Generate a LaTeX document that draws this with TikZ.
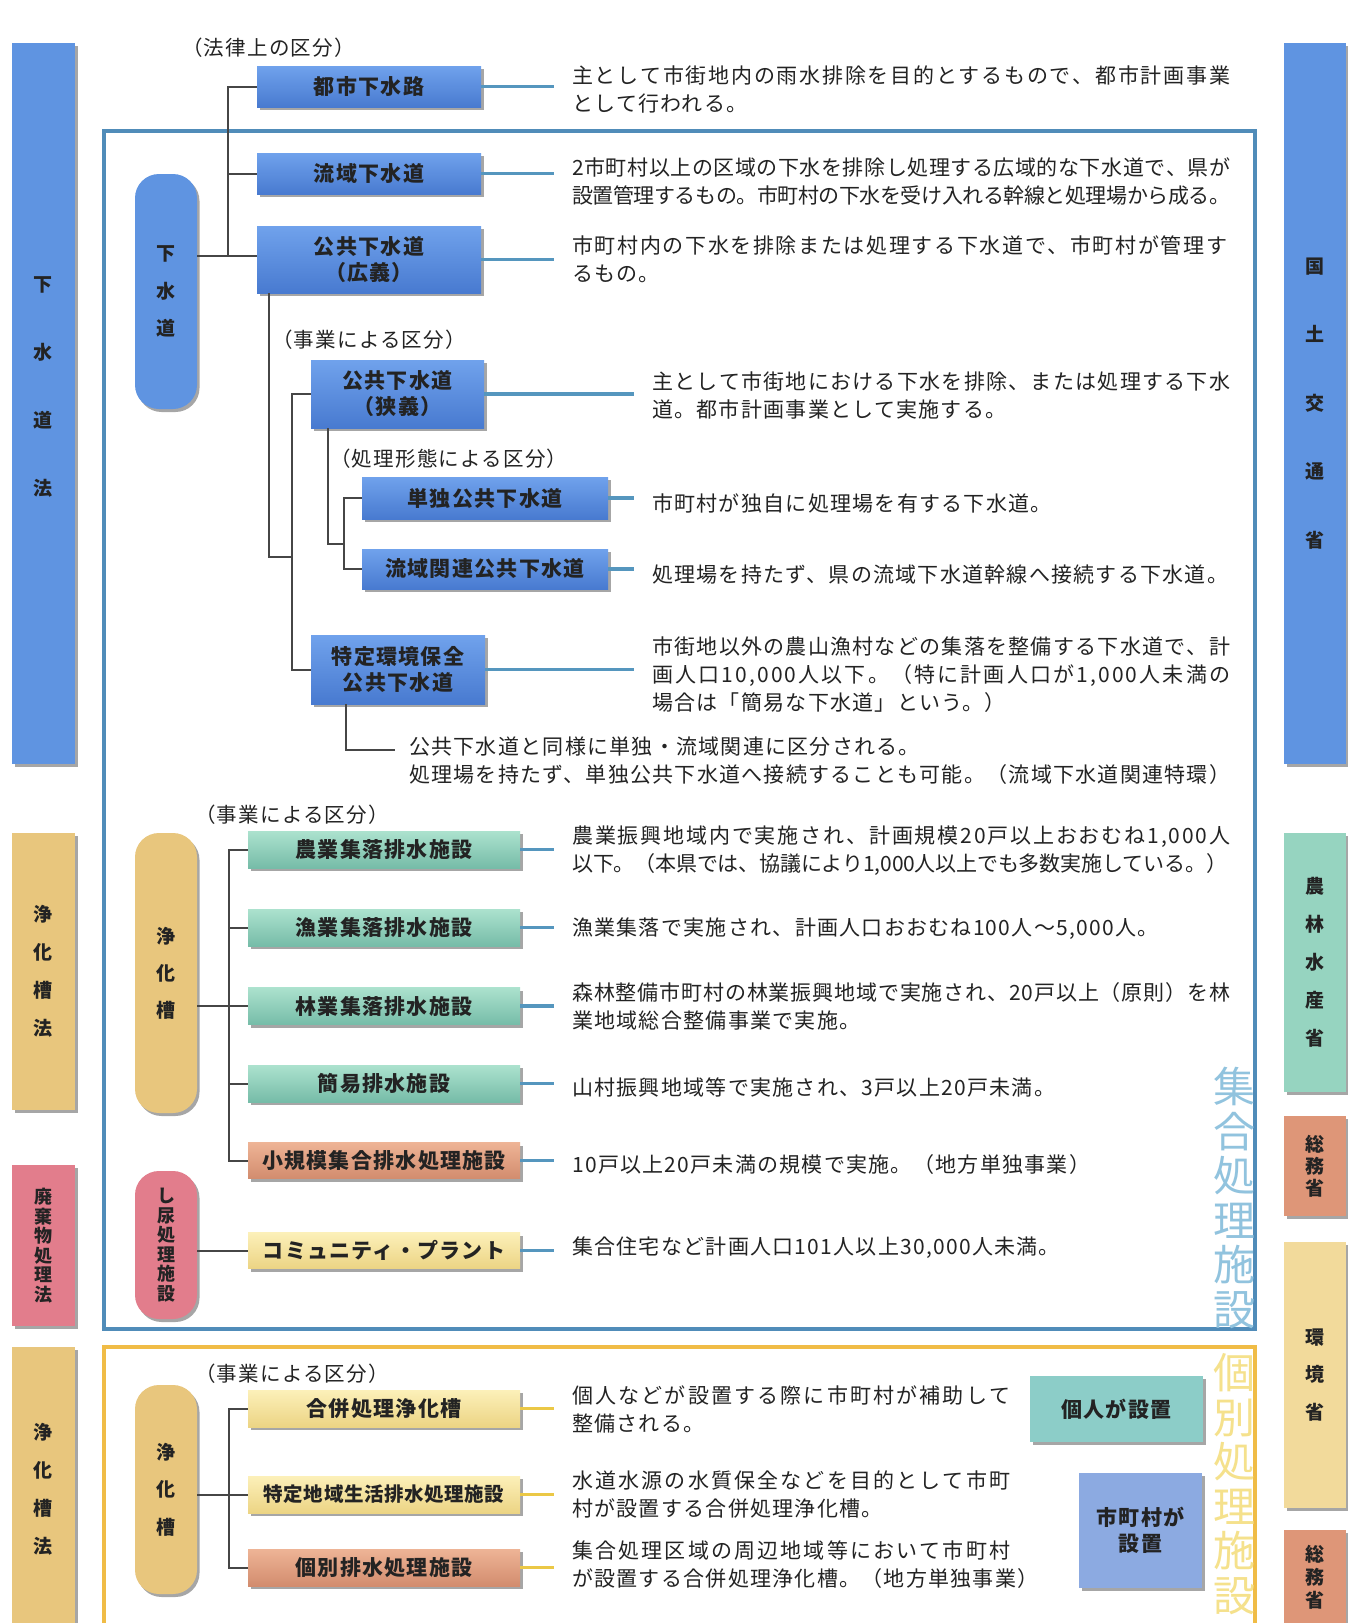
\documentclass[tikz,border=0pt]{standalone}
\usepackage{fontspec}
\setmainfont{Noto Sans CJK JP}
\usetikzlibrary{shadows}
\makeatletter
\def\jl#1#2{\makebox[#1pt][s]{\jl@first#2\relax}}
\def\jl@first#1{#1\jl@loop}
\def\jl@loop#1{\ifx\relax#1\else\hskip0pt plus 1fil minus 3pt #1\expandafter\jl@loop\fi}
\makeatother
\newcommand\trk[1]{\addfontfeature{LetterSpace=#1}}
\definecolor{bxblueT}{RGB}{112,162,236}
\definecolor{bxblueB}{RGB}{72,122,208}
\definecolor{barblue}{RGB}{95,148,225}
\definecolor{tanC}{RGB}{232,198,125}
\definecolor{pinkC}{RGB}{226,125,140}
\definecolor{greenT}{RGB}{172,226,206}
\definecolor{greenB}{RGB}{118,188,168}
\definecolor{salT}{RGB}{238,180,150}
\definecolor{salB}{RGB}{210,140,110}
\definecolor{yelT}{RGB}{252,240,185}
\definecolor{yelB}{RGB}{236,212,132}
\definecolor{minGreen}{RGB}{150,212,192}
\definecolor{minSal}{RGB}{222,150,120}
\definecolor{minTan}{RGB}{242,218,155}
\definecolor{kojinC}{RGB}{140,205,200}
\definecolor{shichoC}{RGB}{140,170,225}
\definecolor{treeC}{RGB}{70,70,70}
\definecolor{connB}{RGB}{85,150,190}
\definecolor{connY}{RGB}{235,200,70}
\definecolor{frameBl}{RGB}{80,140,185}
\definecolor{frameGd}{RGB}{240,188,70}
\definecolor{bigBl}{RGB}{145,195,222}
\definecolor{bigYl}{RGB}{245,225,140}
\definecolor{txtC}{RGB}{35,35,35}
\begin{document}
\begin{tikzpicture}[x=1pt,y=-1pt,
  sShadow/.style={drop shadow={shadow xshift=2.5pt,shadow yshift=-3pt,opacity=0.35,fill=black}},
  sBox/.style={rectangle,inner sep=0pt,align=center,text=txtC,font=\bfseries\fontsize{21}{26}\selectfont\trk{6},sShadow},
  sBlue/.style={sBox,top color=bxblueT,bottom color=bxblueB},
  sGreen/.style={sBox,top color=greenT,bottom color=greenB},
  sSal/.style={sBox,top color=salT,bottom color=salB},
  sYel/.style={sBox,top color=yelT,bottom color=yelB},
  sLaw/.style={rectangle,inner sep=0pt,align=center,text=txtC,sShadow},
  sRound/.style={sLaw,rounded corners=24pt},
  sVt/.style={inner sep=0pt,align=center,text=txtC},
  sDesc/.style={anchor=west,inner sep=0pt,align=left,text=txtC,font=\fontsize{21}{28}\selectfont\trk{6}},
  sCls/.style={anchor=west,inner sep=0pt,text=txtC,font=\fontsize{20.5}{24}\selectfont\trk{6}},
  sBig/.style={inner sep=0pt,align=center,font=\fontsize{42}{44.5}\selectfont},
  sTree/.style={draw=treeC,line width=2pt},
  sConn/.style={draw=connB,line width=3.5pt,shorten >=18pt},
  sConnY/.style={draw=connY,line width=3.5pt,shorten >=18pt}
]
\useasboundingbox (0,0) rectangle (1348,1623);
\fill[white] (0,0) rectangle (1348,1623);

% frames
\draw[frameBl,line width=4pt] (104,131) rectangle (1255,1329);
\draw[frameGd,line width=4.5pt] (104,1347) rectangle (1255,1650);
\node[sBig,text=bigBl] (shugo) at (1234,1198) {集\\合\\処\\理\\施\\設};
\node[sBig,text=bigYl] (kobetsuT) at (1234,1484) {個\\別\\処\\理\\施\\設};

% law bars (left)
\node[sLaw,fill=barblue,minimum width=63,minimum height=721] (law1) at (43.5,403.5) {};
\node[sVt,font=\bfseries\fontsize{19}{68}\selectfont] (law1t) at (43.5,387) {下\\水\\道\\法};
\node[sLaw,fill=tanC,minimum width=63,minimum height=277,font=\bfseries\fontsize{19}{38}\selectfont] (law2) at (43.5,971.5) {浄\\化\\槽\\法};
\node[sLaw,fill=pinkC,minimum width=63,minimum height=161,font=\bfseries\fontsize{18}{19.5}\selectfont] (law3) at (43.5,1245.5) {廃\\棄\\物\\処\\理\\法};
\node[sLaw,fill=tanC,minimum width=63,minimum height=284,font=\bfseries\fontsize{19}{38}\selectfont] (law4) at (43.5,1489) {浄\\化\\槽\\法};

% ministry bars (right)
\node[sLaw,fill=barblue,minimum width=62,minimum height=721,font=\bfseries\fontsize{19}{68.5}\selectfont] (min1) at (1315,403.5) {国\\土\\交\\通\\省};
\node[sLaw,fill=minGreen,minimum width=62,minimum height=259,font=\bfseries\fontsize{19}{38}\selectfont] (min2) at (1315,962.5) {農\\林\\水\\産\\省};
\node[sLaw,fill=minSal,minimum width=62,minimum height=100,font=\bfseries\fontsize{19}{22}\selectfont] (min3) at (1315,1166) {総\\務\\省};
\node[sLaw,fill=minTan,minimum width=62,minimum height=266,font=\bfseries\fontsize{19}{37.5}\selectfont] (min4) at (1315,1375) {環\\境\\省};
\node[sLaw,fill=minSal,minimum width=62,minimum height=94,font=\bfseries\fontsize{19}{23}\selectfont] (min5) at (1315,1577) {総\\務\\省};

% inner rounded bars
\node[sRound,fill=barblue,minimum width=62,minimum height=235,font=\bfseries\fontsize{19}{37.5}\selectfont] (gesuido) at (166,291.5) {下\\水\\道};
\node[sRound,fill=tanC,minimum width=62,minimum height=280,font=\bfseries\fontsize{19}{37}\selectfont] (joka1) at (166,973) {浄\\化\\槽};
\node[sRound,fill=pinkC,minimum width=62,minimum height=148,font=\bfseries\fontsize{18}{19.5}\selectfont] (shinyo) at (166,1245) {し\\尿\\処\\理\\施\\設};
\node[sRound,fill=tanC,minimum width=62,minimum height=209,font=\bfseries\fontsize{19}{37.5}\selectfont] (joka2) at (166,1489.5) {浄\\化\\槽};

% classification labels
\node[sCls] (c1) at (182,48) {（法律上の区分）};
\node[sCls] (c2) at (272,340) {（事業による区分）};
\node[sCls] (c3) at (330,459) {（処理形態による区分）};
\node[sCls] (c4) at (195,815) {（事業による区分）};
\node[sCls] (c5) at (195,1374) {（事業による区分）};

% blue boxes
\node[sBlue,minimum width=224,minimum height=41] (toshi) at (369,86.5) {都市下水路};
\node[sBlue,minimum width=224,minimum height=41] (ryuiki) at (369,173.5) {流域下水道};
\node[sBlue,minimum width=224,minimum height=67] (kokyo1) at (369,259.5) {公共下水道\\（広義）};
\node[sBlue,minimum width=173,minimum height=68] (kyogi) at (397.5,394) {公共下水道\\（狭義）};
\node[sBlue,minimum width=246,minimum height=42] (tandoku) at (485,498) {単独公共下水道};
\node[sBlue,minimum width=246,minimum height=40] (ryukan) at (485,569) {流域関連公共下水道};
\node[sBlue,minimum width=174,minimum height=69] (tokutei) at (398,669.5) {特定環境保全\\公共下水道};

% middle boxes
\node[sGreen,minimum width=272,minimum height=37] (nogyo) at (384,849.5) {農業集落排水施設};
\node[sGreen,minimum width=272,minimum height=37] (gyogyo) at (384,927.5) {漁業集落排水施設};
\node[sGreen,minimum width=272,minimum height=37] (ringyo) at (384,1006) {林業集落排水施設};
\node[sGreen,minimum width=272,minimum height=37] (kani) at (384,1083.5) {簡易排水施設};
\node[sSal,minimum width=272,minimum height=36] (shokibo) at (384,1160.5) {小規模集合排水処理施設};
\node[sYel,minimum width=272,minimum height=36] (community) at (384,1250.5) {コミュニティ・プラント};

% bottom boxes
\node[sYel,minimum width=272,minimum height=37] (gappei) at (384,1408.5) {合併処理浄化槽};
\node[sYel,minimum width=272,minimum height=37,font=\bfseries\fontsize{19.5}{24}\selectfont\trk{3}] (tokuchi) at (384,1494.5) {特定地域生活排水処理施設};
\node[sSal,minimum width=272,minimum height=37] (kobetsu) at (384,1567.5) {個別排水処理施設};
\node[sBox,fill=kojinC,minimum width=173,minimum height=66] (kojin) at (1116.5,1409) {個人が設置};
\node[sBox,fill=shichoC,minimum width=123,minimum height=115] (shicho) at (1140.5,1530.5) {市町村が\\設置};

% descriptions
\node[sDesc] (d1) at (572,89.5) {\jl{658}{主として市街地内の雨水排除を目的とするもので、都市計画事業}\\として行われる。};
\node[sDesc] (d2) at (572,181.5) {\jl{658}{2市町村以上の区域の下水を排除し処理する広域的な下水道で、県が}\\\jl{658}{設置管理するもの。市町村の下水を受け入れる幹線と処理場から成る。}};
\node[sDesc] (d3) at (572,259) {\jl{655}{市町村内の下水を排除または処理する下水道で、市町村が管理す}\\るもの。};
\node[sDesc] (d4) at (652,395) {\jl{578}{主として市街地における下水を排除、または処理する下水}\\道。都市計画事業として実施する。};
\node[sDesc] (d5) at (652,503) {市町村が独自に処理場を有する下水道。};
\node[sDesc] (d6) at (652,575) {処理場を持たず、県の流域下水道幹線へ接続する下水道。};
\node[sDesc] (d7) at (652,675) {\jl{578}{市街地以外の農山漁村などの集落を整備する下水道で、計}\\\jl{578}{画人口10,000人以下。（特に計画人口が1,000人未満の}\\場合は「簡易な下水道」という。）};
\node[sDesc] (d8) at (409,761) {公共下水道と同様に単独・流域関連に区分される。\\処理場を持たず、単独公共下水道へ接続することも可能。（流域下水道関連特環）};
\node[sDesc] (d9) at (572,851) {\jl{658}{農業振興地域内で実施され、計画規模20戸以上おおむね1,000人}\\\jl{655}{以下。（本県では、協議により1,000人以上でも多数実施している。）}};
\node[sDesc] (d10) at (572,929) {漁業集落で実施され、計画人口おおむね100人～5,000人。};
\node[sDesc] (d11) at (572,1006) {\jl{658}{森林整備市町村の林業振興地域で実施され、20戸以上（原則）を林}\\業地域総合整備事業で実施。};
\node[sDesc] (d12) at (572,1087) {山村振興地域等で実施され、3戸以上20戸未満。};
\node[sDesc] (d13) at (572,1165) {10戸以上20戸未満の規模で実施。（地方単独事業）};
\node[sDesc] (d14) at (572,1248) {集合住宅など計画人口101人以上30,000人未満。};
\node[sDesc] (d15) at (572,1409) {\jl{438}{個人などが設置する際に市町村が補助して}\\整備される。};
\node[sDesc] (d16) at (572,1495) {\jl{438}{水道水源の水質保全などを目的として市町}\\村が設置する合併処理浄化槽。};
\node[sDesc] (d17) at (572,1565) {\jl{438}{集合処理区域の周辺地域等において市町村}\\が設置する合併処理浄化槽。（地方単独事業）};

% tree connectors
\coordinate (jT) at (228,256);
\draw[sTree] (toshi.west) -| (jT);
\draw[sTree] (ryuiki.west) -- (ryuiki.west -| jT);
\draw[sTree] (gesuido.east |- jT) -- (kokyo1.west |- jT);
\coordinate (jA) at (269,557);
\coordinate (jB) at (292,557);
\draw[sTree] (kokyo1.south -| jA) -- (jA) -- (jB);
\draw[sTree] (kyogi.west) -| (jB) |- (tokutei.west);
\coordinate (jC) at (328,544);
\coordinate (jD) at (344,544);
\draw[sTree] (kyogi.south -| jC) -- (jC) -- (jD);
\draw[sTree] (tandoku.west) -| (jD) |- (ryukan.west);
\coordinate (jE) at (346,750);
\draw[sTree,shorten >=14pt] (tokutei.south -| jE) -- (jE) -- (d8.west |- jE);
\coordinate (jM) at (229,1006);
\draw[sTree] (nogyo.west) -| (shokibo.west -| jM) -- (shokibo.west);
\draw[sTree] (gyogyo.west) -- (gyogyo.west -| jM);
\draw[sTree] (kani.west) -- (kani.west -| jM);
\draw[sTree] (joka1.east |- ringyo.west) -- (ringyo.west);
\draw[sTree] (shinyo.east |- community.west) -- (community.west);
\draw[sTree] (gappei.west) -| (kobetsu.west -| jM) -- (kobetsu.west);
\draw[sTree] (joka2.east |- tokuchi.west) -- (tokuchi.west);

% box-to-description connectors
\draw[sConn] (toshi.east) -- (toshi.east -| d1.west);
\draw[sConn] (ryuiki.east) -- (ryuiki.east -| d2.west);
\draw[sConn] (kokyo1.east) -- (kokyo1.east -| d3.west);
\draw[sConn] (kyogi.east) -- (kyogi.east -| d4.west);
\draw[sConn] (tandoku.east) -- (tandoku.east -| d5.west);
\draw[sConn] (ryukan.east) -- (ryukan.east -| d6.west);
\draw[sConn] (tokutei.east) -- (tokutei.east -| d7.west);
\draw[sConn] (nogyo.east) -- (nogyo.east -| d9.west);
\draw[sConn] (gyogyo.east) -- (gyogyo.east -| d10.west);
\draw[sConn] (ringyo.east) -- (ringyo.east -| d11.west);
\draw[sConn] (kani.east) -- (kani.east -| d12.west);
\draw[sConn] (shokibo.east) -- (shokibo.east -| d13.west);
\draw[sConn] (community.east) -- (community.east -| d14.west);
\draw[sConnY] (gappei.east) -- (gappei.east -| d15.west);
\draw[sConnY] (tokuchi.east) -- (tokuchi.east -| d16.west);
\draw[sConnY] (kobetsu.east) -- (kobetsu.east -| d17.west);
\end{tikzpicture}
\end{document}
